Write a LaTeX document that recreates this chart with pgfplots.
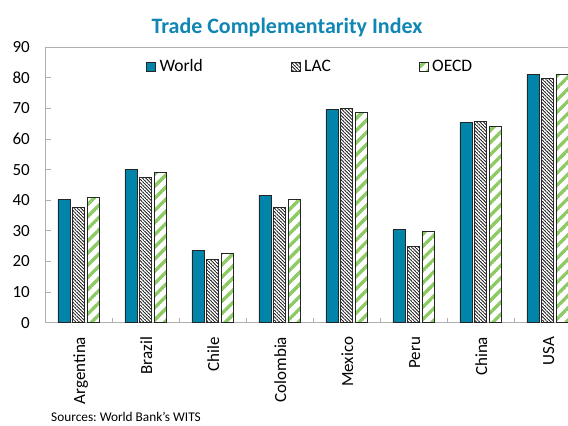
\documentclass[border=0pt]{standalone}
\usepackage{fontspec}
\setmainfont{Carlito}
\usepackage{pgfplots}
\pgfplotsset{compat=1.18}
\usetikzlibrary{patterns.meta}
\frenchspacing

\definecolor{worldcol}{RGB}{0,132,169}
\definecolor{titlecol}{RGB}{16,134,180}
\definecolor{greencol}{RGB}{140,203,100}
\definecolor{axgray}{RGB}{175,175,175}

\tikzdeclarepattern{
  name=mylines,
  type=uncolored,
  parameters={
      \pgfkeysvalueof{/pgf/pattern keys/size},
      \pgfkeysvalueof{/pgf/pattern keys/angle},
      \pgfkeysvalueof{/pgf/pattern keys/line width},
  },
  bounding box={
    (0,-0.5*\pgfkeysvalueof{/pgf/pattern keys/line width}) and
    (\pgfkeysvalueof{/pgf/pattern keys/size},
     0.5*\pgfkeysvalueof{/pgf/pattern keys/line width})},
  tile size={(\pgfkeysvalueof{/pgf/pattern keys/size},
              \pgfkeysvalueof{/pgf/pattern keys/size})},
  tile transformation={rotate=\pgfkeysvalueof{/pgf/pattern keys/angle}},
  defaults={
    size/.initial=5pt,
    angle/.initial=45,
    line width/.initial=.4pt,
  },
  code={
      \draw [line width=\pgfkeysvalueof{/pgf/pattern keys/line width}]
        (0,0) -- (\pgfkeysvalueof{/pgf/pattern keys/size},0);
  },
}

\pgfplotstableread{
x World LAC OECD
0 40.3 37.6 41.0
1 50.1 47.6 49.1
2 23.6 20.8 22.8
3 41.6 37.8 40.4
4 69.7 70.1 68.8
5 30.4 24.8 29.8
6 65.5 65.9 64.1
7 81.0 79.9 81.2
}\datatable

\begin{document}
\begin{tikzpicture}
\useasboundingbox (0,0) rectangle (568bp,426bp);
\clip (0,0) rectangle (568bp,426bp);
\begin{axis}[
  at={(45bp,103.3bp)}, anchor=south west,
  x=67bp, y=3.06bp,
  xmin=-0.5, xmax=7.36, ymin=0, ymax=90,
  ybar=2.6bp, bar width=12bp,
  axis line style={axgray, line width=0.8bp},
  tick pos=left,
  tick align=inside,
  xtick={0,...,7},
  xticklabels={Argentina,Brazil,Chile,Colombia,Mexico,Peru,China,USA},
  major x tick style={draw=none},
  minor xtick={0.5,1.5,...,6.5},
  minor tick length=5bp,
  major tick length=6bp,
  every tick/.style={axgray, line width=0.8bp},
  ytick={0,10,...,90},
  /pgf/number format/assume math mode=true,
  tick label style={font=\fontsize{17bp}{20bp}\selectfont},
  yticklabel style={anchor=east, inner sep=0pt, xshift=-15bp},
  xticklabel style={yshift=-14bp, xshift=6.5bp, rotate=90, anchor=base east, inner sep=0pt},
  legend columns=3,
  legend style={draw=none, fill=none, inner sep=0pt,
    at={(0.1918,0.930)}, anchor=west,
    font=\fontsize{17.5bp}{21bp}\selectfont,
    nodes={inner sep=0pt},
    /tikz/every odd column/.append style={column sep=3.5bp},
    /tikz/every even column/.append style={column sep=88bp}},
  sqlegend/.style={legend image code/.code={\draw[##1] (0bp,-4.5bp) rectangle (9bp,4.5bp);}},
]
\addplot[fill=worldcol, draw=black!85, line width=0.8bp, sqlegend] table[x=x, y=World] {\datatable};
\addplot[pattern={mylines[size=2.4bp, angle=-45, line width=0.9bp]}, pattern color=black!85, draw=black!85, line width=0.8bp, sqlegend] table[x=x, y=LAC] {\datatable};
\addplot[pattern={mylines[size=8.6bp, angle=45, line width=3.4bp]}, pattern color=greencol, draw=black!85, line width=0.8bp, sqlegend] table[x=x, y=OECD] {\datatable};
\legend{World, LAC, OECD}
\end{axis}
\node[anchor=base, text=titlecol, font=\bfseries\fontsize{22bp}{26bp}\selectfont] at (287bp,392bp) {Trade Complementarity Index};
\node[anchor=base west, inner sep=0pt, font=\fontsize{13.3bp}{16bp}\selectfont] at (51bp,4.5bp) {Sources: World Bank’s WITS};
\end{tikzpicture}
\end{document}
